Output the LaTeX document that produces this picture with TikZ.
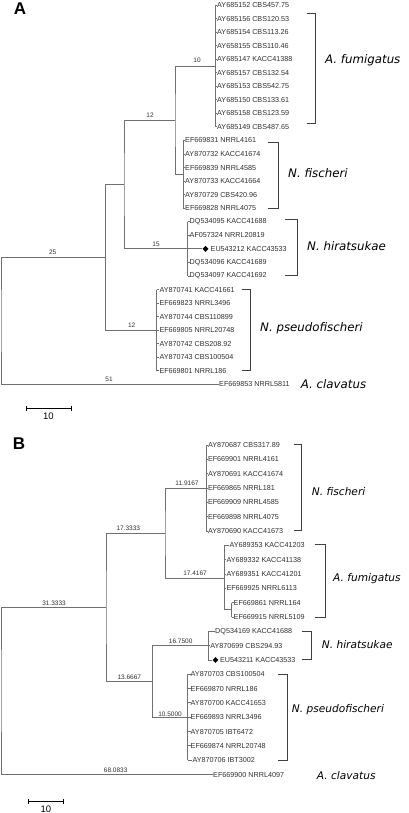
\documentclass[tikz,border=0pt]{standalone}
\usepackage{fontspec}
\setmainfont{Liberation Sans}
\newfontfamily\spfont{DejaVu Sans}
\usetikzlibrary{shapes.geometric}
\definecolor{ln}{HTML}{707070}
\definecolor{tx}{HTML}{303030}
\definecolor{br}{HTML}{404040}
\tikzset{
  leaf/.style={anchor=west,inner sep=0pt,font=\fontsize{7.2}{8}\selectfont,text=tx},
  blab/.style={inner sep=0pt,font=\fontsize{6.5}{7}\selectfont,text=tx},
  sp/.style={anchor=west,inner sep=0pt,font=\spfont\itshape\fontsize{11.8}{14}\selectfont,text=black},
  spb/.style={anchor=west,inner sep=0pt,font=\spfont\itshape\fontsize{10.6}{13}\selectfont,text=black},
  edge/.style={draw=ln,line width=0.9pt},
  brk/.style={draw=br,line width=0.9pt},
  panel/.style={inner sep=0pt,font=\bfseries\fontsize{17}{20}\selectfont},
  sbar/.style={draw=black,line width=1pt},
  dia/.style={diamond,fill=black,inner sep=0pt,minimum size=6pt},
  sbtxt/.style={inner sep=0pt,font=\fontsize{9.5}{10}\selectfont}
}
\begin{document}
\begin{tikzpicture}[x=1pt,y=-1pt]
\useasboundingbox (0,0) rectangle (408,813);
% ================= Tree A =================
\node[panel] (pA) at (20,9) {A};
% fumigatus
\foreach \t [count=\k from 0] in {AY685152 CBS457.75,AY685156 CBS120.53,AY685154 CBS113.26,AY658155 CBS110.46,AY685147 KACC41388,AY685157 CBS132.54,AY685153 CBS542.75,AY685150 CBS133.61,AY685158 CBS123.59,AY685149 CBS487.65}{
  \node[leaf] (fa\k) at (217,5+13.55*\k) {\t};
  \draw[edge] (215,5+13.55*\k) -- (fa\k.west);
}
\draw[edge] (215,5) -- (215,5+13.55*9);
% fischeri
\foreach \t [count=\k from 10] in {EF669831 NRRL4161,AY870732 KACC41674,EF669839 NRRL4585,AY870733 KACC41664,AY870729 CBS420.96,EF669828 NRRL4075}{
  \node[leaf] (fa\k) at (185,5+13.55*\k) {\t};
  \draw[edge] (183,5+13.55*\k) -- (fa\k.west);
}
\draw[edge] (183,5+13.55*10) -- (183,5+13.55*15);
% hiratsukae
\foreach \t [count=\k from 16] in {DQ534095 KACC41688,AF057324 NRRL20819}{
  \node[leaf] (fa\k) at (189.5,5+13.55*\k) {\t};
  \draw[edge] (187.7,5+13.55*\k) -- (fa\k.west);
}
\foreach \t [count=\k from 19] in {DQ534096 KACC41689,DQ534097 KACC41692}{
  \node[leaf] (fa\k) at (189.5,5+13.55*\k) {\t};
  \draw[edge] (187.7,5+13.55*\k) -- (fa\k.west);
}
\node[dia] (dA) at (205.5,5+13.55*18) {};
\node[leaf] (fa18) at (210.5,5+13.55*18) {EU543212 KACC43533};
\draw[edge] (187.7,5+13.55*18) -- (dA.west);
\draw[edge] (187.7,5+13.55*16) -- (187.7,5+13.55*20);
% pseudofischeri
\foreach \t [count=\k from 21] in {AY870741 KACC41661,EF669823 NRRL3496,AY870744 CBS110899,EF669805 NRRL20748,AY870742 CBS208.92,AY870743 CBS100504,EF669801 NRRL186}{
  \node[leaf] (fa\k) at (159.3,5+13.55*\k) {\t};
  \draw[edge] (156.7,5+13.55*\k) -- (fa\k.west);
}
\draw[edge] (156.7,5+13.55*21) -- (156.7,5+13.55*27);
% clavatus
\node[leaf] (fa28) at (219,5+13.55*28) {EF669853 NRRL5811};
% internal nodes
\coordinate (fumA) at (215,66);
\coordinate (fisA) at (183,174.4);
\coordinate (hirA) at (187.7,248.9);
\coordinate (psA) at (156.7,330.2);
\coordinate (n1A) at (175,120.2);
\coordinate (n2A) at (124,184.5);
\coordinate (n3A) at (105.7,257.4);
\coordinate (rA) at (1,321);
\draw[edge] (fumA) -| (n1A) |- (fisA);
\draw[edge] (n1A) -| (n2A) |- (hirA);
\draw[edge] (n2A) -| (n3A) |- (psA);
\draw[edge] (n3A) -| (rA) |- (fa28.west);
% branch labels
\node[blab] (lA1) at (197,60.7) {10};
\node[blab] (lA2) at (150,115) {12};
\node[blab] (lA3) at (156,244.3) {15};
\node[blab] (lA4) at (52.7,252.7) {25};
\node[blab] (lA5) at (131.7,325.7) {12};
\node[blab] (lA6) at (109,379.3) {51};
% brackets
\draw[brk] (307,13) -| (315,123) -- (307,123);
\draw[brk] (268,142.7) -| (278,208) -- (268,208);
\draw[brk] (285,219) -| (297,275) -- (285,275);
\draw[brk] (241.7,289.3) -| (250,370) -- (241.7,370);
% species
\node[sp] (sA1) at (325,60) {A. fumigatus};
\node[sp] (sA2) at (288,173) {N. fischeri};
\node[sp] (sA3) at (307,246) {N. hiratsukae};
\node[sp] (sA4) at (260,328.3) {N. pseudofischeri};
\node[sp] (sA5) at (300.7,383.7) {A. clavatus};
% scale bar
\coordinate (sbA1) at (26.7,408.3);
\coordinate (sbA2) at (71,408.3);
\draw[sbar] (sbA1) -- (sbA2);
\draw[sbar] ([yshift=-2.5pt]sbA1) -- ([yshift=2.5pt]sbA1);
\draw[sbar] ([yshift=-2.5pt]sbA2) -- ([yshift=2.5pt]sbA2);
\node[sbtxt] (sbAt) at (48.3,416.7) {10};
% ================= Tree B =================
\node[panel] (pB) at (19,444) {B};
% fischeri
\foreach \t [count=\k from 0] in {AY870687 CBS317.89,EF669901 NRRL4161,AY870691 KACC41674,EF669865 NRRL181,EF669909 NRRL4585,EF669898 NRRL4075,AY870690 KACC41673}{
  \node[leaf] (fb\k) at (207.8,445+14.33*\k) {\t};
  \draw[edge] (206,445+14.33*\k) -- (fb\k.west);
}
\draw[edge] (206,445) -- (206,445+14.33*6);
% fumigatus
\node[leaf] (fb7) at (229.3,445+14.33*7) {AY689353 KACC41203};
\draw[edge] (224.3,445+14.33*7) -- (fb7.west);
\foreach \t [count=\k from 8] in {AY689332 KACC41138,AY689351 KACC41201,EF669925 NRRL6113}{
  \node[leaf] (fb\k) at (226.3,445+14.33*\k) {\t};
  \draw[edge] (224.3,445+14.33*\k) -- (fb\k.west);
}
\foreach \t [count=\k from 11] in {EF669861 NRRL164,EF669915 NRRL5109}{
  \node[leaf] (fb\k) at (233.5,445+14.33*\k) {\t};
  \draw[edge] (231.7,445+14.33*\k) -- (fb\k.west);
}
\draw[edge] (224.3,445+14.33*7) -- (224.3,609.8) -- (231.7,609.8);
\draw[edge] (231.7,445+14.33*11) -- (231.7,445+14.33*12);
% hiratsukae
\node[leaf] (fb13) at (215,445+14.33*13) {DQ534169 KACC41688};
\draw[edge] (208.3,445+14.33*13) -- (fb13.west);
\node[leaf] (fb14) at (210.2,445+14.33*14) {AY870699 CBS294.93};
\draw[edge] (208.3,445+14.33*14) -- (fb14.west);
\node[dia] (dB) at (215.5,445+14.33*15) {};
\node[leaf] (fb15) at (219.8,445+14.33*15) {EU543211 KACC43533};
\draw[edge] (208.3,445+14.33*15) -- (dB.west);
\draw[edge] (208.3,445+14.33*13) -- (208.3,445+14.33*15);
% pseudofischeri
\foreach \t [count=\k from 16] in {AY870703 CBS100504,EF669870 NRRL186,AY870700 KACC41653,EF669893 NRRL3496,AY870705 IBT6472,EF669874 NRRL20748}{
  \node[leaf] (fb\k) at (190.5,445+14.33*\k) {\t};
  \draw[edge] (187.7,445+14.33*\k) -- (fb\k.west);
}
\node[leaf] (fb22) at (192.3,445+14.33*22) {AY870706 IBT3002};
\draw[edge] (187.7,445+14.33*22) -- (fb22.west);
\draw[edge] (187.7,445+14.33*16) -- (187.7,445+14.33*22);
% clavatus
\node[leaf] (fb23) at (213,445+14.33*23) {EF669900 NRRL4097};
% internal nodes
\coordinate (fisB) at (206,488);
\coordinate (fumB) at (224.3,578.5);
\coordinate (hirB) at (208.3,645.6);
\coordinate (psB) at (187.7,717.3);
\coordinate (n1B) at (165,533.3);
\coordinate (n2B) at (152.7,681.5);
\coordinate (n3B) at (106,607.4);
\coordinate (rB) at (1,691);
\draw[edge] (fisB) -| (n1B) |- (fumB);
\draw[edge] (hirB) -| (n2B) |- (psB);
\draw[edge] (n1B) -| (n3B) |- (n2B);
\draw[edge] (n3B) -| (rB) |- (fb23.west);
% branch labels
\node[blab] (lB1) at (187,483.3) {11.9167};
\node[blab] (lB2) at (128.3,528.3) {17.3333};
\node[blab] (lB3) at (195,573.3) {17.4167};
\node[blab] (lB4) at (54,603.3) {31.3333};
\node[blab] (lB5) at (180.7,641.7) {16.7500};
\node[blab] (lB6) at (129.3,677.3) {13.6667};
\node[blab] (lB7) at (170,714) {10.5000};
\node[blab] (lB8) at (115.7,770.7) {68.0833};
% brackets
\draw[brk] (294,444) -| (301.7,530) -- (294,530);
\draw[brk] (315,544) -| (325,617.3) -- (315,617.3);
\draw[brk] (301.7,631) -| (311.7,659.3) -- (301.7,659.3);
\draw[brk] (278,674.3) -| (287.3,760) -- (278,760);
% species
\node[spb] (sB1) at (311.7,491.7) {N. fischeri};
\node[spb] (sB2) at (333,578.3) {A. fumigatus};
\node[spb] (sB3) at (321.7,645) {N. hiratsukae};
\node[spb] (sB4) at (291.7,710) {N. pseudofischeri};
\node[spb] (sB5) at (316.7,776) {A. clavatus};
% scale bar
\coordinate (sbB1) at (28.3,801.7);
\coordinate (sbB2) at (63.3,801.7);
\draw[sbar] (sbB1) -- (sbB2);
\draw[sbar] ([yshift=-2.5pt]sbB1) -- ([yshift=2.5pt]sbB1);
\draw[sbar] ([yshift=-2.5pt]sbB2) -- ([yshift=2.5pt]sbB2);
\node[sbtxt] (sbBt) at (45.8,809) {10};
\end{tikzpicture}
\end{document}
